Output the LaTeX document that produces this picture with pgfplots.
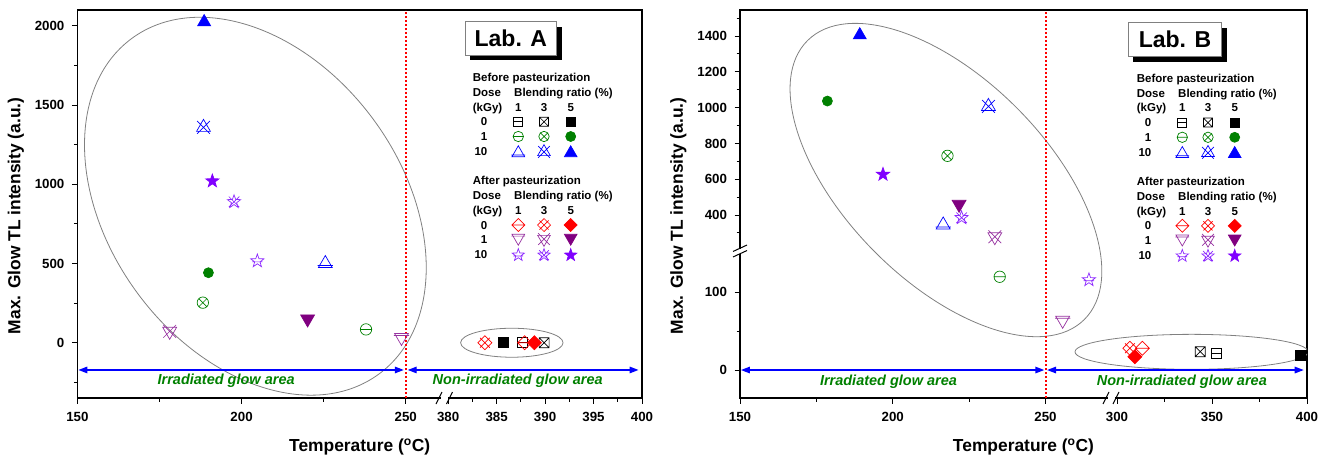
\documentclass[border=0pt]{standalone}
\usepackage{pgfplots}
\pgfplotsset{compat=1.18}
\usepackage{fontspec}
\setmainfont{Liberation Sans}
\usetikzlibrary{arrows.meta}

\definecolor{cBk}{RGB}{0,0,0}
\definecolor{cGr}{RGB}{0,128,0}
\definecolor{cBl}{RGB}{0,0,255}
\definecolor{cRd}{RGB}{255,0,0}
\definecolor{cPu}{RGB}{150,50,160}
\definecolor{cPd}{RGB}{128,0,128}
\definecolor{cVi}{RGB}{140,40,255}
\definecolor{cVd}{RGB}{128,0,255}
\definecolor{cTx}{RGB}{0,128,0}
\definecolor{cEl}{RGB}{128,128,128}

% ---------- custom marks ----------
\newcommand\mR{\pgfplotmarksize}
\newcommand\mkhl[2]{\pgfpathmoveto{\pgfqpoint{-#1\mR}{#2\mR}}\pgfpathlineto{\pgfqpoint{#1\mR}{#2\mR}}}
\newcommand\mkxl[1]{\pgfpathmoveto{\pgfqpoint{-#1\mR}{-#1\mR}}\pgfpathlineto{\pgfqpoint{#1\mR}{#1\mR}}%
  \pgfpathmoveto{\pgfqpoint{-#1\mR}{#1\mR}}\pgfpathlineto{\pgfqpoint{#1\mR}{-#1\mR}}}
\newcommand\mksq{\pgfpathrectangle{\pgfqpoint{-\mR}{-\mR}}{\pgfqpoint{2\mR}{2\mR}}}
\newcommand\mkutri{\pgfpathmoveto{\pgfqpoint{0pt}{\mR}}\pgfpathlineto{\pgfqpoint{0.866\mR}{-0.5\mR}}\pgfpathlineto{\pgfqpoint{-0.866\mR}{-0.5\mR}}\pgfpathclose}
\newcommand\mkdtri{\pgfpathmoveto{\pgfqpoint{0pt}{-\mR}}\pgfpathlineto{\pgfqpoint{0.866\mR}{0.5\mR}}\pgfpathlineto{\pgfqpoint{-0.866\mR}{0.5\mR}}\pgfpathclose}
\newcommand\mkdmd{\pgfpathmoveto{\pgfqpoint{0pt}{\mR}}\pgfpathlineto{\pgfqpoint{\mR}{0pt}}\pgfpathlineto{\pgfqpoint{0pt}{-\mR}}\pgfpathlineto{\pgfqpoint{-\mR}{0pt}}\pgfpathclose}
\newcommand\mkstar{\pgfpathmoveto{\pgfqpoint{0pt}{\mR}}%
  \pgfpathlineto{\pgfqpoint{0.235\mR}{0.324\mR}}\pgfpathlineto{\pgfqpoint{0.951\mR}{0.309\mR}}%
  \pgfpathlineto{\pgfqpoint{0.380\mR}{-0.124\mR}}\pgfpathlineto{\pgfqpoint{0.588\mR}{-0.809\mR}}%
  \pgfpathlineto{\pgfqpoint{0pt}{-0.4\mR}}\pgfpathlineto{\pgfqpoint{-0.588\mR}{-0.809\mR}}%
  \pgfpathlineto{\pgfqpoint{-0.380\mR}{-0.124\mR}}\pgfpathlineto{\pgfqpoint{-0.951\mR}{0.309\mR}}%
  \pgfpathlineto{\pgfqpoint{-0.235\mR}{0.324\mR}}\pgfpathclose}
\pgfdeclareplotmark{sqm}{\mksq\mkhl{1}{0}\pgfusepathqstroke}
\pgfdeclareplotmark{sqx}{\mksq\mkxl{1}\pgfusepathqstroke}
\pgfdeclareplotmark{sqf}{\mksq\pgfusepathqfillstroke}
\pgfdeclareplotmark{om}{\pgfpathcircle{\pgfpointorigin}{\mR}\mkhl{1}{0}\pgfusepathqstroke}
\pgfdeclareplotmark{ox}{\pgfpathcircle{\pgfpointorigin}{\mR}\mkxl{0.707}\pgfusepathqstroke}
\pgfdeclareplotmark{cf}{\pgfpathcircle{\pgfpointorigin}{\mR}\pgfusepathqfillstroke}
\pgfdeclareplotmark{trim}{\mkutri\mkhl{0.95}{-0.25}\pgfusepathqstroke}
\pgfdeclareplotmark{trix}{\mkutri\mkxl{0.8}\pgfusepathqstroke}
\pgfdeclareplotmark{trif}{\mkutri\pgfusepathqfillstroke}
\pgfdeclareplotmark{dtrm}{\mkdtri\mkhl{0.95}{0.25}\pgfusepathqstroke}
\pgfdeclareplotmark{dtrx}{\mkdtri\mkxl{0.8}\pgfusepathqstroke}
\pgfdeclareplotmark{dtrf}{\mkdtri\pgfusepathqfillstroke}
\pgfdeclareplotmark{dmdm}{\mkdmd\mkhl{1}{0}\pgfusepathqstroke}
\pgfdeclareplotmark{dmdx}{\mkdmd\mkxl{0.7}\pgfusepathqstroke}
\pgfdeclareplotmark{dmdf}{\mkdmd\pgfusepathqfillstroke}
\pgfdeclareplotmark{stm}{\mkstar\mkhl{0.75}{-0.12}\pgfusepathqstroke}
\pgfdeclareplotmark{stx}{\mkstar\mkxl{0.75}\pgfusepathqstroke}
\pgfdeclareplotmark{stf}{\mkstar\pgfusepathqfillstroke}

\newcommand\LM[3]{\tikz{\pgfsetlinewidth{0.7pt}\pgfsetcolor{#1}\pgfsetplotmarksize{#2}\pgfuseplotmark{#3}}}
\newcommand\lgfont{\fontsize{11.5}{13}\selectfont\bfseries}

\newcommand\legendblock[2]{%
\begin{scope}[shift={(#1,#2)}, every node/.style={inner sep=0pt, font=\lgfont}]
 \node[anchor=base west] at (0,-4.1) {Before pasteurization};
 \node[anchor=base west] at (0,-18.85) {Dose};
 \node[anchor=base west] at (41.3,-18.85) {Blending ratio (\%)};
 \node[anchor=base west] at (0,-33.6) {(kGy)};
 \node[anchor=base] at (45.6,-33.6) {1};
 \node[anchor=base] at (71.3,-33.6) {3};
 \node[anchor=base] at (98,-33.6) {5};
 \node[anchor=base east] at (14.8,-48.35) {0};
 \node at (45.6,-44.25) {\LM{cBk}{4.5pt}{sqm}};
 \node at (71.3,-44.25) {\LM{cBk}{4.5pt}{sqx}};
 \node at (98,-44.25) {\LM{cBk}{4.5pt}{sqf}};
 \node[anchor=base east] at (14.8,-63.1) {1};
 \node at (45.6,-59) {\LM{cGr}{5.2pt}{om}};
 \node at (71.3,-59) {\LM{cGr}{5.2pt}{ox}};
 \node at (98,-59) {\LM{cGr}{5pt}{cf}};
 \node[anchor=base east] at (14.8,-77.85) {10};
 \node at (45.6,-73.75) {\LM{cBl}{7.3pt}{trim}};
 \node at (71.3,-73.75) {\LM{cBl}{7.3pt}{trix}};
 \node at (98,-73.75) {\LM{cBl}{7.3pt}{trif}};
 \node[anchor=base west] at (0,-107.35) {After pasteurization};
 \node[anchor=base west] at (0,-122.1) {Dose};
 \node[anchor=base west] at (41.3,-122.1) {Blending ratio (\%)};
 \node[anchor=base west] at (0,-136.85) {(kGy)};
 \node[anchor=base] at (45.6,-136.85) {1};
 \node[anchor=base] at (71.3,-136.85) {3};
 \node[anchor=base] at (98,-136.85) {5};
 \node[anchor=base east] at (14.8,-151.6) {0};
 \node at (45.6,-147.5) {\LM{cRd}{6.5pt}{dmdm}};
 \node at (71.3,-147.5) {\LM{cRd}{6.5pt}{dmdx}};
 \node at (98,-147.5) {\LM{cRd}{6.5pt}{dmdf}};
 \node[anchor=base east] at (14.8,-166.35) {1};
 \node at (45.6,-162.25) {\LM{cPu}{7.3pt}{dtrm}};
 \node at (71.3,-162.25) {\LM{cPu}{7.3pt}{dtrx}};
 \node at (98,-162.25) {\LM{cPd}{7.3pt}{dtrf}};
 \node[anchor=base east] at (14.8,-181.1) {10};
 \node at (45.6,-177) {\LM{cVi}{6.5pt}{stm}};
 \node at (71.3,-177) {\LM{cVi}{6.5pt}{stx}};
 \node at (98,-177) {\LM{cVd}{6.5pt}{stf}};
\end{scope}}

\tikzset{
  glow/.style={font=\fontsize{14.5}{16}\selectfont\bfseries\itshape, text=cTx},
  barr/.style={cBl, line width=1.4pt, {Triangle[length=9pt,width=6.5pt]}-{Triangle[length=9pt,width=6.5pt]}},
  rdot/.style={red, line width=2pt, dash pattern=on 2pt off 2pt},
}
\pgfplotsset{
  /pgfplots/table/tA/.style={row sep=\\, x expr={ua(\thisrow{T})}, y=I},
  /pgfplots/table/tB/.style={row sep=\\, x expr={ub(\thisrow{T})}, y expr={vb(\thisrow{I})}},
  mk/.style n args={3}{only marks, color=#1, mark=#2, mark size=#3, mark options={line width=0.7pt, solid}},
  panel/.style={
    scale only axis, anchor=south west, height=388pt,
    axis line style={line width=1.2pt, black},
    tick align=outside, xtick pos=left, ytick pos=left,
    major tick length=5.5pt, minor tick length=3.5pt,
    tick style={black, line width=1pt},
    tick label style={font=\fontsize{13.3}{14}\selectfont\bfseries},
    xticklabel style={yshift=-5pt},
    yticklabel style={xshift=-4pt},
    scaled ticks=false,
    every axis x label/.style={at={(axis description cs:0.5,-0.1255)},anchor=center,
       font=\fontsize{17.4}{18}\selectfont\bfseries},
    every axis y label/.style={at={(axis description cs:-0.1089,0.4696)},anchor=center,rotate=90,
       font=\fontsize{17.4}{18}\selectfont\bfseries},
    xlabel={Temperature (\textsuperscript{o}C)},
    ylabel={Max. Glow TL intensity (a.u.)},
  },
}

\begin{document}
\begin{tikzpicture}[x=1pt,y=1pt,
  declare function={ua(\t)=(\t<300)*(\t-150)+(\t>300)*(112.9+(\t-380)*2.952);
                    ub(\t)=(\t<280)*(\t-150)+(\t>280)*(123.4+(\t-300)*0.6217);
                    vb(\q)=(\q<180)*\q+(\q>180)*(154+(\q-203)*0.2304);}]
\useasboundingbox (0,0) rectangle (1326,459);

% ================= Lab A =================
\begin{axis}[panel, at={(77.4pt,61pt)}, width=564.6pt,
  xmin=0, xmax=171.94, ymin=-349, ymax=2101,
  xtick={0,50,100,112.9,127.66,142.42,157.18,171.94},
  xticklabels={150,200,250,380,385,390,395,400},
  minor xtick={25,75,120.28,135.04,149.8,164.56},
  ytick={0,500,1000,1500,2000}, yticklabels={0,500,1000,1500,2000},
  minor ytick={-250,250,750,1250,1750}]
 \draw[cEl, line width=0.8pt, rotate around={-53.6:(axis cs:54.2,862)}] (axis cs:54.2,862) ellipse [x radius=208.4pt, y radius=146.5pt];
 \draw[cEl, line width=0.8pt] (axis cs:132.3,0) ellipse [x radius=51.2pt, y radius=14.5pt];
 % Before pasteurization
 \addplot[mk={cBk}{sqm}{5pt}] table[tA] {T I\\ 387.7 0\\};
 \addplot[mk={cBk}{sqx}{5pt}] table[tA] {T I\\ 389.9 0\\};
 \addplot[mk={cBk}{sqf}{5pt}] table[tA] {T I\\ 385.7 0\\};
 \addplot[mk={cGr}{om}{5.7pt}] table[tA] {T I\\ 237.9 84\\};
 \addplot[mk={cGr}{ox}{5.7pt}] table[tA] {T I\\ 188.2 253\\};
 \addplot[mk={cGr}{cf}{5pt}] table[tA] {T I\\ 189.9 442\\};
 \addplot[mk={cBl}{trim}{8pt}] table[tA] {T I\\ 225.5 500\\};
 \addplot[mk={cBl}{trix}{8pt}] table[tA] {T I\\ 188.4 1360\\};
 \addplot[mk={cBl}{trif}{7.5pt}] table[tA] {T I\\ 188.6 2025\\};
 % After pasteurization
 \addplot[mk={cRd}{dmdm}{7pt}] table[tA] {T I\\ 387.9 0\\};
 \addplot[mk={cRd}{dmdx}{7pt}] table[tA] {T I\\ 383.8 0\\};
 \addplot[mk={cRd}{dmdf}{7pt}] table[tA] {T I\\ 388.9 0\\};
 \addplot[mk={cPu}{dtrm}{8pt}] table[tA] {T I\\ 248.7 33\\};
 \addplot[mk={cPu}{dtrx}{8pt}] table[tA] {T I\\ 178.1 72\\};
 \addplot[mk={cPd}{dtrf}{8pt}] table[tA] {T I\\ 220.1 150\\};
 \addplot[mk={cVi}{stm}{7pt}] table[tA] {T I\\ 204.8 516\\};
 \addplot[mk={cVi}{stx}{7pt}] table[tA] {T I\\ 197.7 890\\};
 \addplot[mk={cVd}{stf}{7pt}] table[tA] {T I\\ 191.1 1021\\};
 \draw[rdot] (axis cs:100,-349) -- (axis cs:100,2101);
 \draw[barr] (axis cs:0.3,-172) -- (axis cs:99.4,-172);
 \draw[barr] (axis cs:100.6,-172) -- (axis cs:170.9,-172);
 \node[glow] at (axis cs:45.3,-240) {Irradiated glow area};
 \node[glow] at (axis cs:134.1,-240) {Non-irradiated glow area};
\end{axis}

% ================= Lab B =================
\begin{axis}[panel, at={(740pt,61pt)}, width=567pt,
  xmin=0, xmax=185.57, ymin=-36, ymax=463.3,
  xtick={0,50,100,123.4,154.49,185.57},
  xticklabels={150,200,250,300,350,400},
  minor xtick={25,75,138.94,170.03},
  ytick={0,100,199.39,245.47,291.55,337.63,383.71,429.79},
  yticklabels={0,100,400,600,800,1000,1200,1400},
  minor ytick={50,176.35,222.43,268.51,314.59,360.67,406.75,452.83}]
 \draw[cEl, line width=0.8pt, rotate around={-45.25:(axis cs:67.4,244.5)}] (axis cs:67.4,244.5) ellipse [x radius=196.5pt, y radius=101.1pt];
 \draw[cEl, line width=0.8pt] (axis cs:147.8,23.4) ellipse [x radius=116.6pt, y radius=17.5pt];
 % Before pasteurization
 \addplot[mk={cBk}{sqm}{5pt}] table[tB] {T I\\ 352.4 21.5\\};
 \addplot[mk={cBk}{sqx}{5pt}] table[tB] {T I\\ 343.8 23.6\\};
 \addplot[mk={cBk}{sqf}{5pt}] table[tB] {T I\\ 396.3 18.4\\};
 \addplot[mk={cGr}{om}{5.7pt}] table[tB] {T I\\ 235.0 120\\};
 \addplot[mk={cGr}{ox}{5.7pt}] table[tB] {T I\\ 217.9 731\\};
 \addplot[mk={cGr}{cf}{5pt}] table[tB] {T I\\ 178.6 1037\\};
 \addplot[mk={cBl}{trim}{8pt}] table[tB] {T I\\ 216.5 345\\};
 \addplot[mk={cBl}{trix}{8pt}] table[tB] {T I\\ 231.3 1007\\};
 \addplot[mk={cBl}{trif}{7.5pt}] table[tB] {T I\\ 189.2 1405\\};
 % After pasteurization
 \addplot[mk={cRd}{dmdm}{7pt}] table[tB] {T I\\ 313.3 28\\};
 \addplot[mk={cRd}{dmdx}{7pt}] table[tB] {T I\\ 306.8 28\\};
 \addplot[mk={cRd}{dmdf}{7pt}] table[tB] {T I\\ 309.4 17\\};
 \addplot[mk={cPu}{dtrm}{8pt}] table[tB] {T I\\ 255.6 64\\};
 \addplot[mk={cPu}{dtrx}{8pt}] table[tB] {T I\\ 233.4 279\\};
 \addplot[mk={cPd}{dtrf}{8pt}] table[tB] {T I\\ 221.7 460\\};
 \addplot[mk={cVi}{stm}{7pt}] table[tB] {T I\\ 264.2 116\\};
 \addplot[mk={cVi}{stx}{7pt}] table[tB] {T I\\ 222.5 385\\};
 \addplot[mk={cVd}{stf}{7pt}] table[tB] {T I\\ 196.8 627\\};
 \draw[rdot] (axis cs:100,-36) -- (axis cs:100,463.3);
 \draw[barr] (axis cs:0.3,0) -- (axis cs:99.6,0);
 \draw[barr] (axis cs:100.5,0) -- (axis cs:184.5,0);
 \node[glow] at (axis cs:48.6,-15) {Irradiated glow area};
 \node[glow] at (axis cs:144.6,-15) {Non-irradiated glow area};
\end{axis}

% ---- axis breaks ----
\fill[white] (440.5,58) rectangle (448,64);
\draw[line width=1pt] (436,55) -- (442,67);
\draw[line width=1pt] (446.5,55) -- (452.5,67);
\fill[white] (1107.5,58) rectangle (1114.5,64);
\draw[line width=1pt] (1103,55) -- (1109,67);
\draw[line width=1pt] (1113,55) -- (1119,67);
\fill[white] (737,205.5) rectangle (743,210.5);
\draw[line width=1pt] (733,202) -- (747,208.5);
\draw[line width=1pt] (733,207.5) -- (747,214);

% ---- Lab boxes ----
\fill[black] (470,399) rectangle (561.7,432.3);
\draw[cEl, fill=white, line width=0.6pt] (465,404) rectangle (556.7,437.3);
\node[font=\fontsize{23}{23}\selectfont\bfseries] at (510.85,420.65) {Lab. A};
\fill[black] (1133.3,397.3) rectangle (1226.7,431.3);
\draw[cEl, fill=white, line width=0.6pt] (1128.3,402.3) rectangle (1221.7,436.3);
\node[font=\fontsize{23}{23}\selectfont\bfseries] at (1175,419.3) {Lab. B};

% ---- legends ----
\legendblock{472.7}{381.5}
\legendblock{1136.7}{380.7}
\end{tikzpicture}
\end{document}
